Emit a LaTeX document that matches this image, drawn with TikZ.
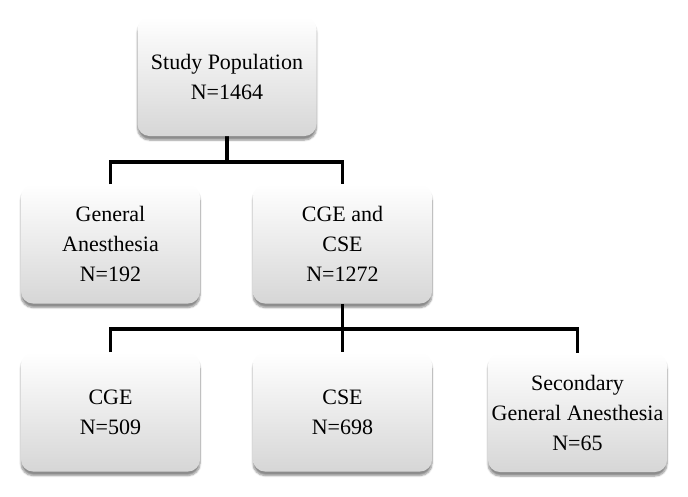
\documentclass[tikz,border=0pt]{standalone}
\usepackage{fontspec}
\setmainfont{Liberation Serif}
\usetikzlibrary{shadows,shadows.blur,backgrounds}

\begin{document}
\begin{tikzpicture}[x=1pt,y=-1pt]

\tikzset{box/.style={rounded corners=12pt, top color=white, bottom color=black!16,
   minimum width=179pt, minimum height=119pt, inner sep=0pt, align=center,
   font=\fontsize{22}{30}\selectfont,
   blur shadow={shadow xshift=0pt, shadow yshift=-4pt, shadow blur steps=6, shadow opacity=45}},
link/.style={line width=3.5pt}}

\useasboundingbox (0,0) rectangle (688,496);

\node[box] (pop) at (227,76.5) {Study Population\\N=1464};

\foreach \n/\x/\y/\t in {ga/110.5/244/General\\Anesthesia\\N=192, cc/342.5/244/CGE and\\CSE\\N=1272,
   cge/110.5/412/CGE\\N=509, cse/342.5/412/CSE\\N=698, sga/577.5/412.5/Secondary\\General Anesthesia\\N=65}
  \node[box] (\n) at (\x,\y) {\t};

%now the links
\coordinate (j1) at (227,162);
\coordinate (j2) at (342.5,329);

\begin{scope}[on background layer]
  \draw[link] (pop.south) -- (j1);
  \draw[link] (ga.north) |- (j1) -| (cc.north);
  \draw[link] (cc.south) -- (cse.north);
  \draw[link] (cge.north) |- (j2) -| (sga.north);
\end{scope}

\end{tikzpicture}
\end{document}
